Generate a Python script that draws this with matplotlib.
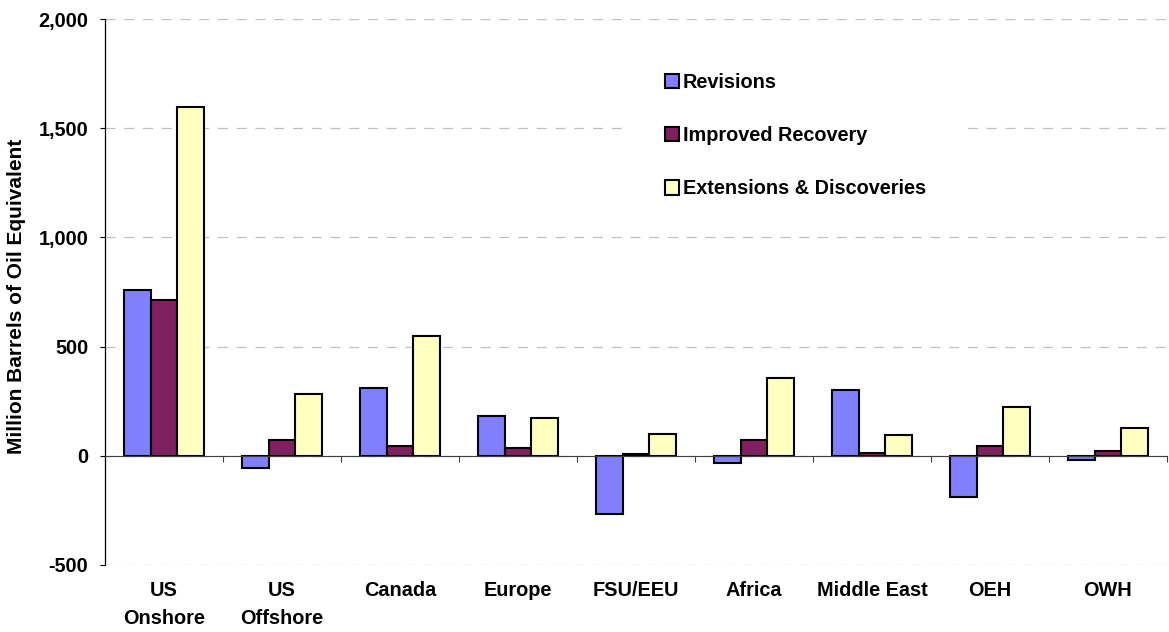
import numpy as np
import matplotlib
matplotlib.use("Agg")
import matplotlib.pyplot as plt

plt.rcParams['font.family'] = ['Liberation Sans', 'DejaVu Sans']
plt.rcParams['font.weight'] = 'bold'

# data
regions = ["US\nOnshore", "US\nOffshore", "Canada", "Europe", "FSU/EEU",
           "Africa", "Middle East", "OEH", "OWH"]
revisions = [759, -56, 312, 184, -265, -33, 302, -189, -17]
improved_recovery = [714, 71, 43, 38, 8, 72, 12, 43, 23]
extensions = [1597, 282, 549, 175, 99, 355, 97, 224, 126]
series_names = ["Revisions", "Improved Recovery", "Extensions & Discoveries"]
colors = ['#8080FF', '#802060', '#FFFFC0']

fs = 14.3
fig = plt.figure(figsize=(11.69, 6.32), dpi=100)
ax = fig.add_axes([105 / 1169, 1 - 565 / 632, (1167 - 105) / 1169, (565 - 19) / 632])

x = np.arange(len(regions))
w = 0.226
for k, (vals, name) in enumerate(zip([revisions, improved_recovery, extensions], series_names)):
    ax.bar(x + (k - 1) * w, vals, width=w, color=colors[k], edgecolor='black',
           linewidth=1.5, label=name, zorder=3)

ax.set_xlim(-0.5, len(regions) - 0.5)
ax.set_ylim(-500, 2000)
ax.set_yticks(np.arange(-500, 2001, 500))
ax.set_yticklabels([f"{int(v):,}" for v in np.arange(-500, 2001, 500)])
ax.yaxis.grid(True, color='#c0c0c0', linestyle=(0, (8, 7)), linewidth=0.9)
ax.set_axisbelow(True)

ax.spines['top'].set_visible(False)
ax.spines['right'].set_visible(False)
ax.spines['left'].set_linewidth(0.9)
ax.spines['bottom'].set_position(('data', 0))
ax.spines['bottom'].set_color('#404040')
ax.spines['bottom'].set_linewidth(0.8)
ax.spines['bottom'].set_zorder(4)

# category boundaries get tick marks on the zero line
ax.set_xticks(np.arange(-0.5, len(regions) - 0.4, 1.0))
ax.set_xticklabels([])
ax.tick_params(axis='x', direction='out', length=4.5, width=0.8, color='#404040')
ax.tick_params(axis='y', direction='out', length=3.6, width=0.8, pad=8.5, labelsize=fs)

for i, name in enumerate(regions):
    ax.text(i, -0.029, name, transform=ax.get_xaxis_transform(), ha='center', va='top',
            fontsize=fs, fontweight='bold', linespacing=1.62)

fig.text(17 / 1169, 1 - 296 / 632, "Million Barrels of Oil Equivalent", rotation=90,
         ha='center', va='center', fontsize=15, fontweight='bold')

leg = ax.legend(loc='upper left', bbox_to_anchor=(630 / 1169, 1 - 38 / 632),
                bbox_transform=fig.transFigure, borderaxespad=0, fontsize=fs,
                frameon=True, fancybox=False, borderpad=1.75, labelspacing=1.73,
                handlelength=0.72, handleheight=0.72, handletextpad=0.2)
leg.get_frame().set_facecolor('white')
leg.get_frame().set_edgecolor('none')
leg.get_frame().set_alpha(1)

fig.savefig("out.png", dpi=100)
